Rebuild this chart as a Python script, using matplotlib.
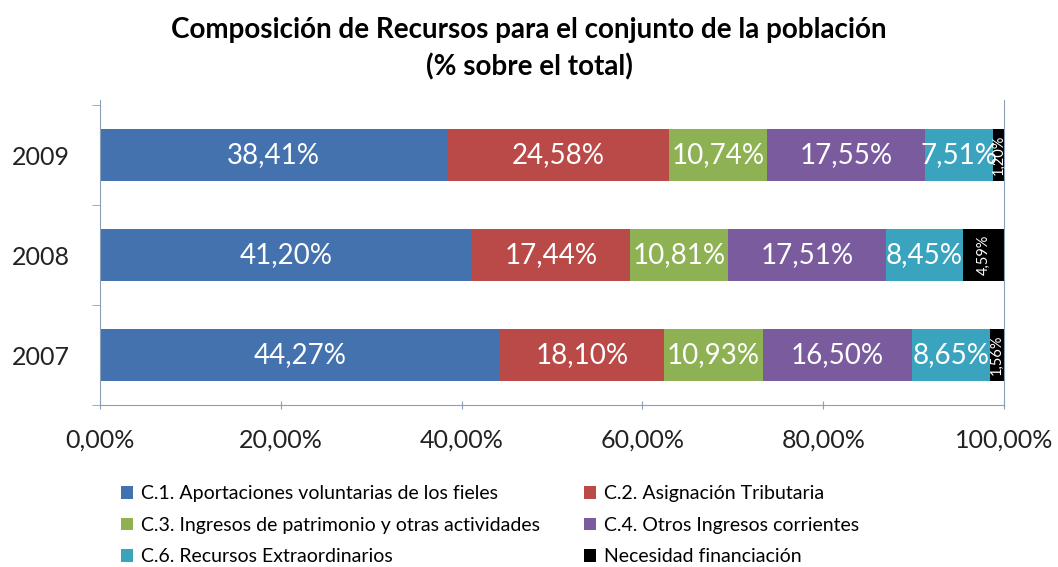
import matplotlib.pyplot as plt
import numpy as np

plt.rcParams['font.family'] = ['Lato', 'DejaVu Sans']

# Data (top to bottom as in chart)
years = ['2009', '2008', '2007']
series = ['C.1. Aportaciones voluntarias de los fieles',
          'C.2. Asignación Tributaria',
          'C.3. Ingresos de patrimonio y otras actividades',
          'C.4. Otros Ingresos corrientes',
          'C.6. Recursos Extraordinarios',
          'Necesidad financiación']
c1 = [38.41, 41.20, 44.27]
c2 = [24.58, 17.44, 18.10]
c3 = [10.74, 10.81, 10.93]
c4 = [17.55, 17.51, 16.50]
c6 = [7.51, 8.45, 8.65]
nf = [1.20, 4.59, 1.56]
colors = ['#4372AE', '#B94A47', '#8DB153', '#7A5C9E', '#3AA3BE', '#000000']

values = [c1, c2, c3, c4, c6, nf]

fig = plt.figure(figsize=(10.58, 5.67), dpi=100)
ax = fig.add_axes([0.0945, 0.2857, 0.8545, 0.5379])

ypos = np.array([2, 1, 0])
left = np.zeros(3)
handles = []
for i, vals in enumerate(values):
    vals = np.array(vals)
    b = ax.barh(ypos, vals, left=left, height=0.52, color=colors[i], label=series[i])
    handles.append(b)
    for j in range(3):
        txt = '{0:.2f}%'.format(vals[j]).replace('.', ',')
        x = left[j] + vals[j] / 2
        if i == 5:
            ax.text(x, ypos[j], txt, color='white', ha='center', va='center',
                    rotation=90, fontsize=10.5)
        else:
            ax.text(x, ypos[j], txt, color='white', ha='center', va='center',
                    fontsize=20)
    left = left + vals

ax.set_xlim(0, 100)
ax.set_ylim(-0.5, 2.55)
ax.set_xticks(np.arange(0, 101, 20))
ax.set_xticklabels(['{0:.2f}%'.format(v).replace('.', ',') for v in np.arange(0, 101, 20)],
                   fontsize=18, color='#222222')
ax.set_yticks(ypos)
ax.set_yticklabels(years, fontsize=18, color='#222222')
ax.set_yticks([-0.5, 0.5, 1.5, 2.5], minor=True)
ax.tick_params(axis='y', which='major', length=0, pad=22)
ax.tick_params(axis='y', which='minor', length=6, color='#8AA0B8', direction='out')
ax.tick_params(axis='x', length=6, color='#8AA0B8', direction='inout', pad=14)

for s in ['top']:
    ax.spines[s].set_visible(False)
for s in ['left', 'bottom', 'right']:
    ax.spines[s].set_color('#8AA0B8')

fig.suptitle('Composición de Recursos para el conjunto de la población\n(% sobre el total)',
             fontsize=20, fontweight='bold', y=0.97, linespacing=1.45)

order = [0, 2, 4, 1, 3, 5]
fig.legend([handles[k] for k in order], [series[k] for k in order], ncol=2,
           loc='lower left', bbox_to_anchor=(0.098, -0.028), frameon=False,
           fontsize=14, handlelength=0.6, handleheight=0.6, handletextpad=0.4,
           columnspacing=2.3, labelspacing=0.75)

fig.savefig('out.png', dpi=100)
